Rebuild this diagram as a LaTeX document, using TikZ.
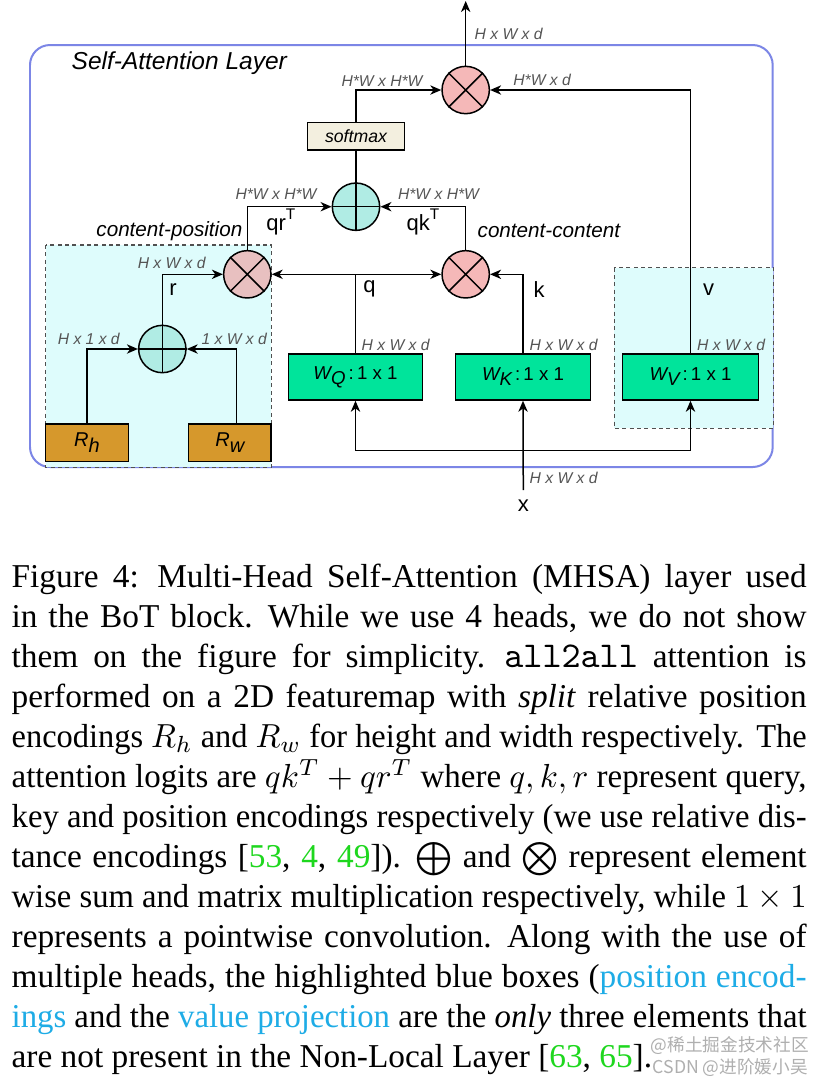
\documentclass[tikz,border=0pt]{standalone}
\usepackage{fontspec}
\setmainfont{Liberation Serif}
\setsansfont{Liberation Sans}
\newfontfamily\cjkfont{Noto Sans CJK SC}
\usetikzlibrary{arrows.meta,calc}
\definecolor{layerblue}{RGB}{124,134,230}
\definecolor{mulpink}{RGB}{245,184,184}
\definecolor{mulpinkb}{RGB}{232,192,192}
\definecolor{addcyan}{RGB}{176,236,228}
\definecolor{smfill}{RGB}{243,239,223}
\definecolor{wgreen}{RGB}{0,228,155}
\definecolor{rorange}{RGB}{214,152,44}
\definecolor{hifill}{RGB}{222,252,252}
\definecolor{hiborder}{RGB}{80,80,80}
\definecolor{dimgray}{RGB}{85,85,85}
\definecolor{citegreen}{RGB}{30,215,30}
\definecolor{linkblue}{RGB}{30,172,230}
\definecolor{wmgray}{RGB}{175,175,175}
\newsavebox\mylinebox
\newlength\mycapwidth
\setlength\mycapwidth{238.5pt}
\newcommand\mysp{\spaceskip=2.5pt plus 3pt minus 0.7pt\relax\xspaceskip=3.8pt plus 3pt minus 0.7pt\relax}
\newcommand\mycapline[1]{\sbox\mylinebox{\mysp #1}%
  \ifdim\wd\mylinebox>\mycapwidth
    \hbox{\resizebox{\mycapwidth}{\ht\mylinebox}{\usebox\mylinebox}}%
  \else
    \hbox to \mycapwidth{\mysp #1}%
  \fi}
\newcommand\mytt[1]{{\fontsize{10.9}{12}\selectfont\ttfamily #1}}
\begin{document}
\begin{tikzpicture}[x=0.3pt,y=-0.3pt,
  ln/.style={draw=black, line width=0.45pt},
  arr/.style={ln, -{Stealth[length=3.3pt,width=2.8pt,inset=1pt]}},
  dim/.style={font=\sffamily\itshape\fontsize{4.7}{5.5}\selectfont, text=dimgray, inner sep=0pt},
  lbl/.style={font=\sffamily\fontsize{6.6}{7.5}\selectfont, inner sep=0pt},
  ilbl/.style={font=\sffamily\itshape\fontsize{6.2}{7}\selectfont, inner sep=0pt},
  opnode/.style={circle, draw, line width=0.45pt, minimum size=14.2pt, inner sep=0pt},
  mul/.style={opnode, fill=mulpink},
  add/.style={opnode, fill=addcyan},
  wbox/.style={draw, line width=0.45pt, fill=wgreen, minimum height=13.8pt, inner sep=0pt, font=\sffamily\fontsize{5.6}{6.5}\selectfont},
  rbox/.style={draw, line width=0.45pt, fill=rorange, minimum height=11.3pt, minimum width=24.8pt, inner sep=0pt, font=\sffamily\itshape\fontsize{6}{7}\selectfont},
  hibox/.style={draw=hiborder, dash pattern=on 1.2pt off 1pt, line width=0.4pt, fill=hifill},
]
\useasboundingbox (0,0) rectangle (832,1086);
\fill[white] (0,0) rectangle (832,1086);

% layer frame and highlighted regions
\draw[draw=layerblue, line width=0.6pt, rounded corners=6pt] (30,45) rectangle (772.7,467);
\draw[hibox] (45.7,245) rectangle (271.3,467.3);
\draw[hibox] (614.3,267.7) rectangle (773.3,428.3);

\node[ilbl, anchor=west, font=\sffamily\itshape\fontsize{7.35}{8.5}\selectfont] (title) at (71,63) {Self-Attention Layer};

% nodes
\node[mul] (m3) at (465.7,90) {};
\node[draw, line width=0.45pt, fill=smfill, minimum width=29.2pt, minimum height=8.3pt, inner sep=0pt,
      font=\sffamily\itshape\fontsize{5.3}{6}\selectfont] (sm) at (356,136.2) {softmax};
\node[add] (a1) at (356,206.7) {};
\node[mul, fill=mulpinkb] (m1) at (247.3,274.3) {};
\node[mul] (m2) at (465.7,274.3) {};
\node[add] (a2) at (162.3,349) {};
\node[rbox] (Rh) at (87,442.8) {R\raisebox{-0.6ex}{h}};
\node[rbox] (Rw) at (229.8,442.8) {R\raisebox{-0.6ex}{w}};
\node[wbox, minimum width=40.3pt] (WQ) at (355.5,377) {{\itshape W\raisebox{-0.5ex}{Q}}\,:\,1 x 1};
\node[wbox, minimum width=40.6pt] (WK) at (523,377) {{\itshape W\raisebox{-0.5ex}{K}}\,:\,1 x 1};
\node[wbox, minimum width=40.7pt] (WV) at (690.5,377) {{\itshape W\raisebox{-0.5ex}{V}}\,:\,1 x 1};

\foreach \n in {m1,m2,m3} \draw[ln] (\n.45) -- (\n.225) (\n.135) -- (\n.315);
\foreach \n in {a1,a2} \draw[ln] (\n.north) -- (\n.south) (\n.west) -- (\n.east);

\coordinate (out) at (465.7,1);
\coordinate (xin) at (523.3,490);
\coordinate (xj) at (523.3,450.7);

% connectors
\draw[arr] (m3.north) -- (out);
\draw[arr] (sm.north) |- (m3.west);
\draw[arr] (WV.north) |- (m3.east);
\draw[ln] (a1.north) -- (sm.south);
\draw[arr] (m1.north) |- (a1.west);
\draw[arr] (m2.north) |- (a1.east);
\draw[arr] (WQ.north) |- (m1.east);
\draw[arr] (WQ.north) |- (m2.west);
\draw[arr] (WK.north) |- (m2.east);
\draw[arr] (a2.north) |- (m1.west);
\draw[arr] (Rh.north) |- (a2.west);
\draw[arr] ([xshift=2.07pt]Rw.north) |- (a2.east);
\draw[arr] (xin) -- (WK.south);
\draw[arr] (xj) -| (WQ.south);
\draw[arr] (xj) -| (WV.south);

% dimension labels
\node[dim, anchor=west] (d1) at (474,34) {H x W x d};
\node[dim, anchor=west] (d2) at (512.7,80) {H*W x d};
\node[dim] (d3) at (382,81) {H*W x H*W};
\node[dim] (d4) at (276,194) {H*W x H*W};
\node[dim] (d5) at (438.5,194) {H*W x H*W};
\node[dim] (d6) at (171.7,263) {H x W x d};
\node[dim] (d7) at (88.8,339) {H x 1 x d};
\node[dim] (d8) at (234.2,339) {1 x W x d};
\node[dim, anchor=west] (d9) at (361,345) {H x W x d};
\node[dim, anchor=west] (d10) at (529,345) {H x W x d};
\node[dim, anchor=west] (d11) at (696.5,345) {H x W x d};
\node[dim, anchor=west] (d12) at (529,478.3) {H x W x d};

% tensor labels
\node[lbl, anchor=west] (lqr) at (265.7,222) {qr\textsuperscript{T}};
\node[lbl, anchor=west] (lqk) at (406,222) {qk\textsuperscript{T}};
\node[lbl] (lq) at (369.5,289) {q};
\node[lbl] (lk) at (539,290) {k};
\node[lbl] (lv) at (708.5,290) {v};
\node[lbl] (lr) at (173,290) {r};
\node[lbl] (lx) at (523.3,506) {x};
\node[ilbl, anchor=east] (cp) at (243,230.7) {content-position};
\node[ilbl, anchor=west] (cc) at (477,230.7) {content-content};

% caption
\node[anchor=north west, inner sep=0pt, text width=238.5pt,
      font=\rmfamily\fontsize{10}{12}\selectfont] (cap) at (11,559) {%
\mycapline{\strut Figure 4: Multi-Head Self-Attention (MHSA) layer used}
\mycapline{in the BoT block. While we use 4 heads, we do not show}
\mycapline{them on the figure for simplicity. \mytt{all2all} attention is}
\mycapline{performed on a 2D featuremap with \emph{split} relative position}
\mycapline{encodings $R_h$ and $R_w$ for height and width respectively. The}
\mycapline{attention logits are $qk^T + qr^T$ where $q, k, r$ represent query,}
\mycapline{key and position encodings respectively (we use relative dis-}
\mycapline{tance encodings [\textcolor{citegreen}{53}, \textcolor{citegreen}{4}, \textcolor{citegreen}{49}]). $\bigoplus$ and $\bigotimes$ represent element}
\mycapline{wise sum and matrix multiplication respectively, while $1\times 1$}
\mycapline{represents a pointwise convolution. Along with the use of}
\mycapline{multiple heads, the highlighted blue boxes (\textcolor{linkblue}{position encod-}}
\mycapline{\textcolor{linkblue}{ings} and the \textcolor{linkblue}{value projection} are the \emph{only} three elements that}
\mycapline{are not present in the Non-Local Layer [\textcolor{citegreen}{63}, \textcolor{citegreen}{65}].\hfil}};

% watermark
\node[anchor=west, inner sep=0pt, font=\cjkfont\fontsize{5.3}{6}\selectfont, text=wmgray] (wm1) at (650,1046) {@稀土掘金技术社区};
\node[anchor=west, inner sep=0pt, font=\cjkfont\fontsize{5.3}{6}\selectfont, text=wmgray] (wm2) at (652,1068) {CSDN @进阶媛小吴};
\end{tikzpicture}
\end{document}
